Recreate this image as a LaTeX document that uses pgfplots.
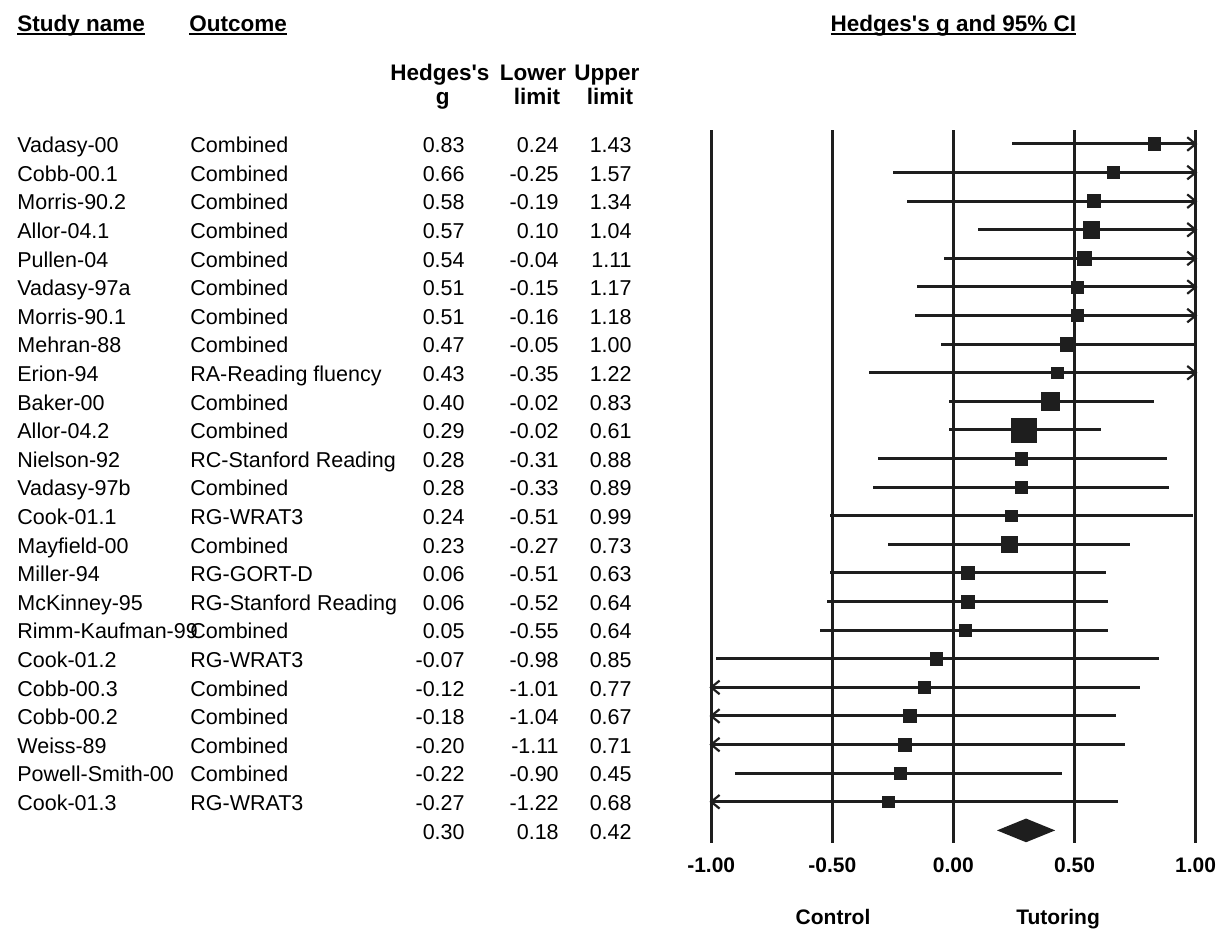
\documentclass[border=0pt]{standalone}
\usepackage{pgfplots}
\pgfplotsset{compat=1.18}
\usepackage{pgfplotstable}
\usepackage{fontspec}
\setmainfont{Liberation Sans}
\definecolor{ink}{HTML}{1E1E1E}
\newcommand\datafont{\fontsize{10.75}{12}\selectfont}
\newcommand\headfont{\fontsize{11.25}{13}\selectfont\bfseries}
\newcommand\tickfont{\fontsize{10.5}{12}\selectfont\bfseries}
\newcommand\ul[1]{\setbox0\hbox{#1}\rlap{\rule[-2pt]{\wd0}{1pt}}\box0}

\pgfdeclareplotmark{arrR}{%
  \pgfsetlinewidth{1.1pt}%
  \pgfpathmoveto{\pgfqpoint{-4.2pt}{3.4pt}}%
  \pgfpathlineto{\pgfqpoint{0pt}{0pt}}%
  \pgfpathlineto{\pgfqpoint{-4.2pt}{-3.4pt}}%
  \pgfusepathqstroke}
\pgfdeclareplotmark{arrL}{%
  \pgfsetlinewidth{1.1pt}%
  \pgfpathmoveto{\pgfqpoint{4.2pt}{3.4pt}}%
  \pgfpathlineto{\pgfqpoint{0pt}{0pt}}%
  \pgfpathlineto{\pgfqpoint{4.2pt}{-3.4pt}}%
  \pgfusepathqstroke}

\pgfplotstableread[col sep=comma]{
r,g,lo,hi,s,name,outcome
1,0.83,0.24,1.43,12.7,Vadasy-00,Combined
2,0.66,-0.25,1.57,12.7,Cobb-00.1,Combined
3,0.58,-0.19,1.34,13.3,Morris-90.2,Combined
4,0.57,0.10,1.04,16.5,Allor-04.1,Combined
5,0.54,-0.04,1.11,14.0,Pullen-04,Combined
6,0.51,-0.15,1.17,12.3,Vadasy-97a,Combined
7,0.51,-0.16,1.18,12.3,Morris-90.1,Combined
8,0.47,-0.05,1.00,14.3,Mehran-88,Combined
9,0.43,-0.35,1.22,12.0,Erion-94,RA-Reading fluency
10,0.40,-0.02,0.83,17.7,Baker-00,Combined
11,0.29,-0.02,0.61,24.7,Allor-04.2,Combined
12,0.28,-0.31,0.88,13.0,Nielson-92,RC-Stanford Reading
13,0.28,-0.33,0.89,13.0,Vadasy-97b,Combined
14,0.24,-0.51,0.99,12.3,Cook-01.1,RG-WRAT3
15,0.23,-0.27,0.73,15.7,Mayfield-00,Combined
16,0.06,-0.51,0.63,13.0,Miller-94,RG-GORT-D
17,0.06,-0.52,0.64,13.0,McKinney-95,RG-Stanford Reading
18,0.05,-0.55,0.64,12.5,Rimm-Kaufman-99,Combined
19,-0.07,-0.98,0.85,12.7,Cook-01.2,RG-WRAT3
20,-0.12,-1.01,0.77,12.7,Cobb-00.3,Combined
21,-0.18,-1.04,0.67,13.0,Cobb-00.2,Combined
22,-0.20,-1.11,0.71,13.0,Weiss-89,Combined
23,-0.22,-0.90,0.45,12.0,Powell-Smith-00,Combined
24,-0.27,-1.22,0.68,12.3,Cook-01.3,RG-WRAT3
25,0.30,0.18,0.42,0,none,none
}\data

\begin{document}
\begin{tikzpicture}
\begin{axis}[
  x=121.1pt, y=14.3pt,
  xmin=-1, xmax=1, ymin=-25.44, ymax=-0.51,
  clip=false,
  axis line style={draw=none},
  major tick length=0pt,
  ytick=\empty,
  xtick={-1,-0.5,0,0.5,1},
  xticklabels={-1.00,-0.50,0.00,0.50,1.00},
  xticklabel style={font=\tickfont, anchor=center, yshift=-11pt, inner sep=0pt, text=black},
  xmajorgrids,
  grid style={ink, line width=1.4pt, solid},
]
% confidence intervals (clipped to the plotted range)
\addplot[draw=none, mark=none,
  restrict expr to domain={\thisrow{r}}{1:24},
  error bars/.cd, x dir=both, x explicit, error mark=none,
  error bar style={draw=ink, line width=1.5pt, solid}]
  table[x=g, y expr=-\thisrow{r},
        x error plus expr={min(\thisrow{hi},1)-\thisrow{g}},
        x error minus expr={\thisrow{g}-max(\thisrow{lo},-1)}] {\data};
% arrows for intervals beyond the range
\addplot[only marks, mark=arrR, ink,
  restrict expr to domain={\thisrow{hi}}{1.005:1000}]
  table[x expr=1, y expr=-\thisrow{r}] {\data};
\addplot[only marks, mark=arrL, ink,
  restrict expr to domain={\thisrow{lo}}{-1000:-1.005}]
  table[x expr=-1, y expr=-\thisrow{r}] {\data};
% point estimates, size by weight
\addplot[scatter, only marks, mark=square*,
  mark options={line width=0.3pt},
  scatter/use mapped color={draw=ink, fill=ink},
  visualization depends on={\thisrow{s}/4-0.08 \as \ms},
  scatter/@pre marker code/.append style={/tikz/mark size=\ms},
  restrict expr to domain={\thisrow{r}}{1:24}]
  table[x=g, y expr=-\thisrow{r}] {\data};
% summary diamond
\addplot[fill=ink, draw=none] coordinates {(0.18,-25) (0.30,-24.586) (0.42,-25) (0.30,-25.414) (0.18,-25)};

% text columns
\addplot[draw=none, mark=none, nodes near coords, point meta=explicit symbolic,
  every node near coord/.append style={font=\datafont, anchor=base west, inner sep=0pt, yshift=-4.35pt, text=black},
  restrict expr to domain={\thisrow{r}}{1:24}]
  table[x expr=-3.8662, y expr=-\thisrow{r}, meta=name] {\data};
\addplot[draw=none, mark=none, nodes near coords, point meta=explicit symbolic,
  every node near coord/.append style={font=\datafont, anchor=base west, inner sep=0pt, yshift=-4.35pt, text=black},
  restrict expr to domain={\thisrow{r}}{1:24}]
  table[x expr=-3.1520, y expr=-\thisrow{r}, meta=outcome] {\data};
\addplot[draw=none, mark=none, nodes near coords, point meta=explicit symbolic,
  every node near coord/.append style={font=\datafont, anchor=base east, inner sep=0pt, yshift=-4.35pt, text=black}]
  table[x expr=-2.0165, y expr=-\thisrow{r}, meta=g] {\data};
\addplot[draw=none, mark=none, nodes near coords, point meta=explicit symbolic,
  every node near coord/.append style={font=\datafont, anchor=base east, inner sep=0pt, yshift=-4.35pt, text=black}]
  table[x expr=-1.6280, y expr=-\thisrow{r}, meta=lo] {\data};
\addplot[draw=none, mark=none, nodes near coords, point meta=explicit symbolic,
  every node near coord/.append style={font=\datafont, anchor=base east, inner sep=0pt, yshift=-4.35pt, text=black}]
  table[x expr=-1.3270, y expr=-\thisrow{r}, meta=hi] {\data};

% headers
\node[anchor=base west, font=\headfont, inner sep=0pt] at (axis cs:-3.8662,2.949) {\ul{Study name}};
\node[anchor=base west, font=\headfont, inner sep=0pt] at (axis cs:-3.1560,2.949) {\ul{Outcome}};
\node[anchor=base, font=\headfont, inner sep=0pt] at (axis cs:0.0,2.949) {\ul{Hedges\textquotesingle s g and 95\% CI}};
\node[anchor=base, font=\headfont, inner sep=0pt] at (axis cs:-2.120,1.236) {Hedges\textquotesingle s};
\node[anchor=base, font=\headfont, inner sep=0pt] at (axis cs:-2.108,0.364) {g};
\node[anchor=base, font=\headfont, inner sep=0pt] at (axis cs:-1.736,1.236) {Lower};
\node[anchor=base, font=\headfont, inner sep=0pt] at (axis cs:-1.719,0.364) {limit};
\node[anchor=base, font=\headfont, inner sep=0pt] at (axis cs:-1.431,1.236) {Upper};
\node[anchor=base, font=\headfont, inner sep=0pt] at (axis cs:-1.418,0.364) {limit};
% bottom labels
\node[anchor=base, font=\tickfont, inner sep=0pt] at (axis cs:-0.497,-28.29) {Control};
\node[anchor=base, font=\tickfont, inner sep=0pt] at (axis cs:0.432,-28.29) {Tutoring};

\coordinate (BL) at (axis cs:-3.9364,-28.762);
\coordinate (TR) at (axis cs:1.1090,4.035);
\end{axis}
\pgfresetboundingbox
\path[use as bounding box] (BL) rectangle (TR);
\end{tikzpicture}
\end{document}
